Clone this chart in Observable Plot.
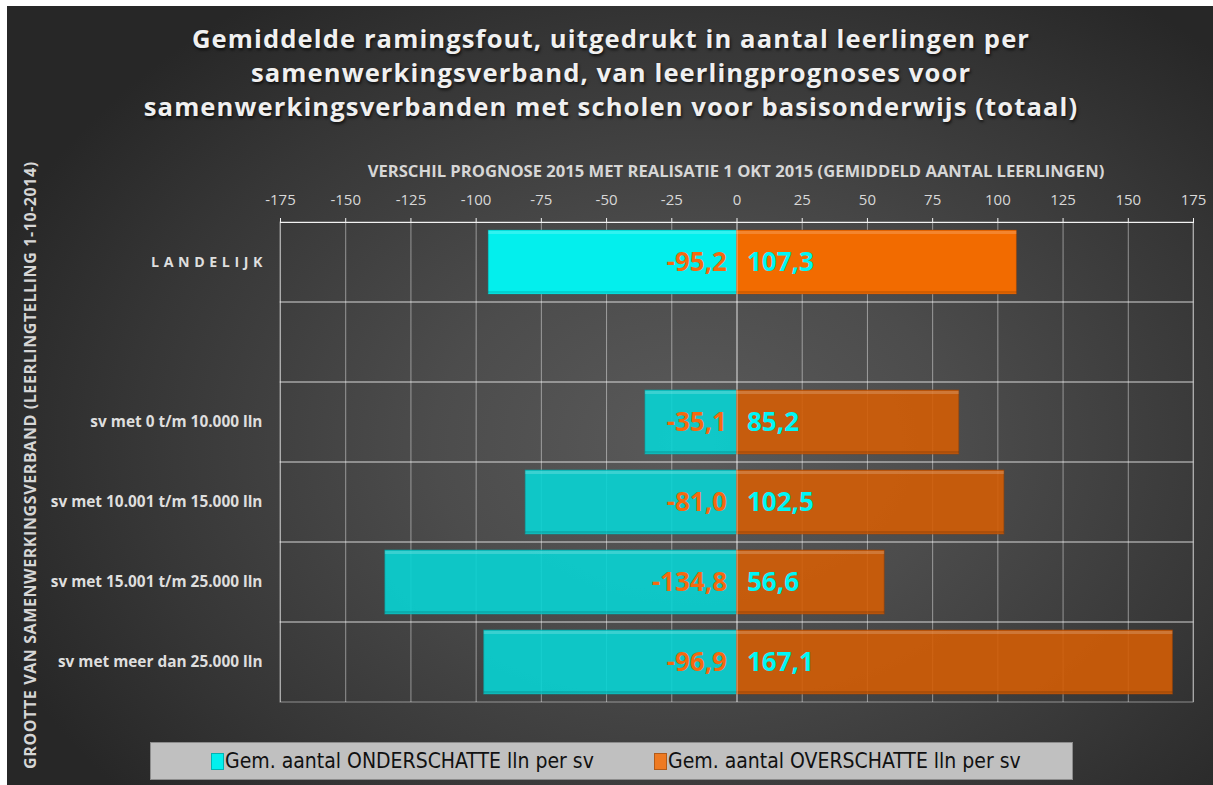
<!DOCTYPE html>
<html><head><meta charset="utf-8">
<script src="https://cdn.jsdelivr.net/npm/d3@7"></script>
<script src="https://cdn.jsdelivr.net/npm/@observablehq/plot@0.6"></script>
<style>
body{margin:0;background:#fff;}
#wrap{position:relative;width:1213px;height:785px;overflow:hidden;background:#fff;font-family:"Open Sans",sans-serif;}
#panel{position:absolute;left:7px;top:6px;right:0;bottom:0;
 background:radial-gradient(ellipse 62% 70% at 57% 56%, #5a5a5a 0%, #4c4c4c 35%, #363636 75%, #272727 100%);}
#title{position:absolute;left:0;width:1222px;top:22px;text-align:center;color:#f0f0f0;font:bold 25.6px "Open Sans",sans-serif;line-height:34px;letter-spacing:1.1px;text-shadow:1px 2px 3px rgba(0,0,0,0.7);}
#xlabel{position:absolute;left:136px;width:1200px;top:159px;text-align:center;color:#d6d6d6;font:bold 16.6px "Open Sans",sans-serif;line-height:24px;}
#ylabel{position:absolute;left:30px;top:465px;width:700px;margin-left:-350px;margin-top:-12px;text-align:center;transform:rotate(-90deg);color:#d6d6d6;font:bold 16px "Open Sans",sans-serif;letter-spacing:0.6px;line-height:24px;}
#chart{position:absolute;left:0;top:0;}
#legend{position:absolute;left:150px;top:742px;width:921px;height:36px;background:#c0c0c0;border:1px solid #8c8c8c;font:21px "Liberation Sans Narrow","DejaVu Sans Condensed","Open Sans",sans-serif;color:#111;}
.item{position:absolute;top:0;line-height:36px;white-space:nowrap;}
.sw{display:inline-block;width:11px;height:15px;vertical-align:-2px;margin-right:1px;border:1px solid rgba(0,0,0,0.25);}
</style></head>
<body>
<div id="wrap">
  <div id="panel"></div>
  <div id="title">Gemiddelde ramingsfout, uitgedrukt in aantal leerlingen per<br>samenwerkingsverband, van leerlingprognoses voor<br>samenwerkingsverbanden met scholen voor basisonderwijs (totaal)</div>
  <div id="xlabel">VERSCHIL PROGNOSE 2015 MET REALISATIE 1 OKT 2015 (GEMIDDELD AANTAL LEERLINGEN)</div>
  <div id="ylabel">GROOTTE VAN SAMENWERKINGSVERBAND (LEERLINGTELLING 1-10-2014)</div>
  <div id="chart"></div>
  <div id="legend"></div>
</div>
<script>
// ---- data ----
const categories = ["LANDELIJK", "", "sv met 0 t/m 10.000 lln", "sv met 10.001 t/m 15.000 lln", "sv met 15.001 t/m 25.000 lln", "sv met meer dan 25.000 lln"];
const onderschat = [-95.2, null, -35.1, -81.0, -134.8, -96.9];
const overschat = [107.3, null, 85.2, 102.5, 56.6, 167.1];
const xTicks = [-175, -150, -125, -100, -75, -50, -25, 0, 25, 50, 75, 100, 125, 150, 175];
const seriesNames = ["Gem. aantal ONDERSCHATTE lln per sv", "Gem. aantal OVERSCHATTE lln per sv"];

const cyanBright = "#03efed", orangeBright = "#f26b00";
const cyanDark = "#08d4d4", orangeDark = "#d35d05";

const rows = [];
categories.forEach((c, i) => {
  if (onderschat[i] != null) rows.push({cat: c, series: 0, value: onderschat[i], land: i === 0});
  if (overschat[i] != null) rows.push({cat: c, series: 1, value: overschat[i], land: i === 0});
});
const fmt = v => v.toFixed(1).replace(".", ",");
const colorOf = d => d.series === 0 ? (d.land ? cyanBright : cyanDark) : (d.land ? orangeBright : orangeDark);
const strokeOf = d => d.series === 0 ? "#0a9e9e" : "#9a4206";

const otherRows = rows.filter(d => !d.land);
const landCyan = rows.filter(d => d.land && d.series === 0);
const landOrange = rows.filter(d => d.land && d.series === 1);

const barOpts = {y: "cat", x1: () => 0, x2: "value", insetTop: 8, insetBottom: 8};

const plot = Plot.plot({
  width: 1213, height: 785,
  marginLeft: 280, marginRight: 20, marginTop: 222, marginBottom: 83,
  style: {background: "transparent", color: "#dcdcdc", fontFamily: "Open Sans, sans-serif", overflow: "visible"},
  x: {domain: [xTicks[0], xTicks[xTicks.length - 1]], axis: null},
  y: {domain: categories, padding: 0, axis: null},
  marks: [
    Plot.barX(categories, {y: d => d, x1: xTicks[0], x2: xTicks[xTicks.length - 1], fill: "none", stroke: "#ffffff", strokeOpacity: 0.45}),
    Plot.ruleX(xTicks, {stroke: "#ffffff", strokeOpacity: 0.45}),
    Plot.barX(otherRows, {...barOpts, fill: colorOf, fillOpacity: 0.9, stroke: strokeOf, strokeOpacity: 0.6, ariaLabel: "bars-other"}),
    Plot.barX(landCyan, {...barOpts, fill: colorOf, stroke: strokeOf, strokeOpacity: 0.4, ariaLabel: "bars-land-cyan"}),
    Plot.barX(landOrange, {...barOpts, fill: colorOf, stroke: strokeOf, strokeOpacity: 0.4, ariaLabel: "bars-land-orange"}),
    // bevel highlight and shade
    Plot.barX(rows, {y: "cat", x1: () => 0, x2: "value", insetTop: 9, insetBottom: 68, fill: "#ffffff", fillOpacity: 0.18}),
    Plot.barX(rows, {y: "cat", x1: () => 0, x2: "value", insetTop: 69, insetBottom: 9, fill: "#000000", fillOpacity: 0.12}),
    Plot.ruleX([0], {stroke: "#ffffff", strokeOpacity: 0.5}),
    Plot.ruleY([categories[0]], {stroke: "#f2f2f2", strokeWidth: 1.2, dy: -40}),
    Plot.axisX({anchor: "top", ticks: xTicks, tickSize: 5, tickPadding: 13, tickFormat: d => String(d), fontSize: 15, label: null, stroke: "#f2f2f2", fill: "#d8d8d8"}),
    Plot.axisY({anchor: "left", tickSize: 0, tickPadding: 18, fontSize: 15.4, fontWeight: "bold", label: null, fill: "#dedede"}),
    Plot.text(rows.filter(d => d.series === 0), {y: "cat", x: () => 0, text: d => fmt(d.value), textAnchor: "end", dx: -10, fill: "#f5690f", fontSize: 26, fontWeight: "bold"}),
    Plot.text(rows.filter(d => d.series === 1), {y: "cat", x: () => 0, text: d => fmt(d.value), textAnchor: "start", dx: 10, fill: "#00f6f6", fontSize: 26, fontWeight: "bold"})
  ]
});
document.getElementById("chart").appendChild(plot);

plot.querySelectorAll('g[aria-label="bars-other"]').forEach(g => g.style.filter = "drop-shadow(2px 2px 2px rgba(0,0,0,0.45))");
plot.querySelectorAll('g[aria-label="bars-land-cyan"]').forEach(g => g.style.filter = "drop-shadow(0 0 4px rgba(0,240,240,0.55))");
plot.querySelectorAll('g[aria-label="bars-land-orange"]').forEach(g => g.style.filter = "drop-shadow(0 0 4px rgba(255,120,20,0.6))");
plot.querySelectorAll("text").forEach(t => {
  if (t.textContent === "LANDELIJK") { t.style.letterSpacing = "4.6px"; t.style.fontSize = "14.2px"; t.setAttribute("dx", "4.6"); }
});

// legend
const legend = document.getElementById("legend");
const legendColors = [cyanBright, "#ee7a22"];
const legendX = [60, 503];
seriesNames.forEach((name, i) => {
  const it = document.createElement("div");
  it.className = "item";
  it.style.left = legendX[i] + "px";
  it.innerHTML = `<span class="sw" style="background:${legendColors[i]}"></span>${name}`;
  legend.appendChild(it);
});
</script>
</body></html>
